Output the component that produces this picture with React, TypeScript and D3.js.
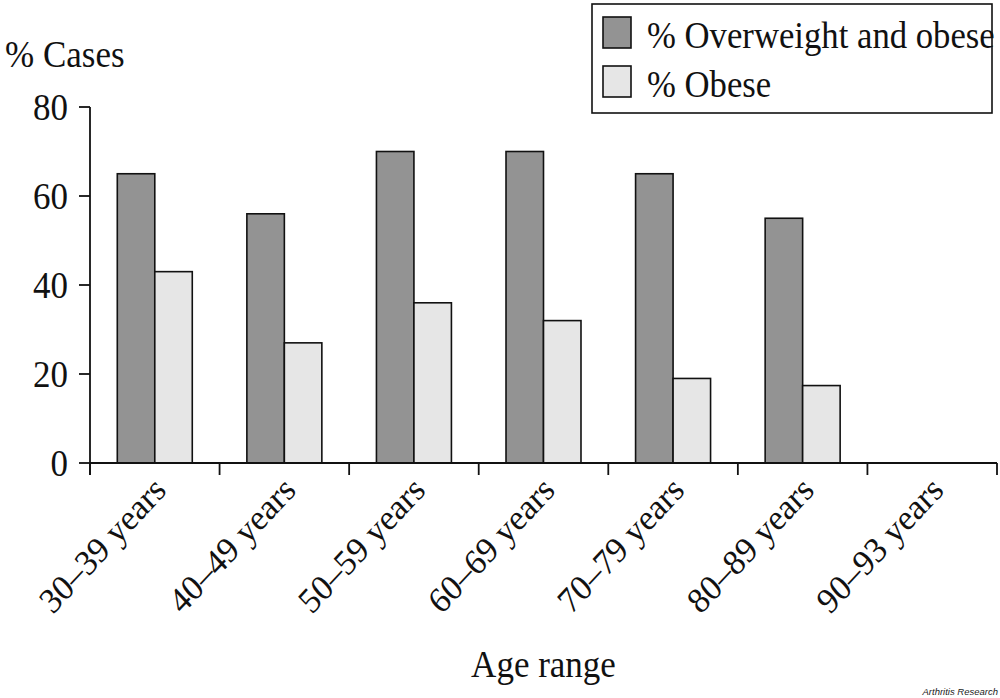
import React, { useEffect, useRef } from "react";
import * as d3 from "d3";

const categories = [
  "30–39 years",
  "40–49 years",
  "50–59 years",
  "60–69 years",
  "70–79 years",
  "80–89 years",
  "90–93 years",
];
const seriesNames = ["% Overweight and obese", "% Obese"];
const overweightObese: (number | null)[] = [65, 56, 70, 70, 65, 55, null];
const obese: (number | null)[] = [43, 27, 36, 32, 19, 17.4, null];
const yTicks = [0, 20, 40, 60, 80];
const seriesColors = ["#939393", "#e6e6e6"];

const W = 1000;
const H = 698;
const FONT = "'Liberation Serif', 'Times New Roman', serif";
const STRETCH = 1.07;

export default function App() {
  const ref = useRef<SVGSVGElement | null>(null);

  useEffect(() => {
    const svg = d3.select(ref.current);
    svg.selectAll("*").remove();

    const x0 = 90, x1 = 997, yTop = 107, yBase = 463;
    const x = d3.scaleBand<string>().domain(categories).range([x0, x1]).padding(0);
    const inner = d3
      .scaleBand<string>()
      .domain(seriesNames)
      .range([0, x.bandwidth()])
      .paddingInner(0)
      .paddingOuter(0.728);
    const y = d3.scaleLinear().domain([0, 80]).range([yBase, yTop]);

    const data = [overweightObese, obese];

    const txt = (
      parent: any,
      px: number,
      py: number,
      s: string,
      size: number,
      anchor = "start",
      extra = ""
    ) =>
      parent
        .append("text")
        .attr("transform", `translate(${px},${py}) scale(1,${STRETCH}) ${extra}`)
        .attr("text-anchor", anchor)
        .attr("font-family", FONT)
        .attr("font-size", size)
        .attr("fill", "#111")
        .text(s);

    // bars
    const g = svg.append("g");
    categories.forEach((c, i) => {
      seriesNames.forEach((s, j) => {
        const v = data[j][i];
        if (v == null) return;
        g.append("rect")
          .attr("x", (x(c) as number) + (inner(s) as number))
          .attr("y", y(v))
          .attr("width", inner.bandwidth())
          .attr("height", y(0) - y(v))
          .attr("fill", seriesColors[j])
          .attr("stroke", "#111")
          .attr("stroke-width", 1.6);
      });
    });

    // y axis
    const ya = svg.append("g");
    ya.append("line")
      .attr("x1", x0).attr("x2", x0)
      .attr("y1", y(80)).attr("y2", yBase + 12)
      .attr("stroke", "#111").attr("stroke-width", 1.8);
    yTicks.forEach((t) => {
      ya.append("line")
        .attr("x1", x0 - 11).attr("x2", x0)
        .attr("y1", y(t)).attr("y2", y(t))
        .attr("stroke", "#111").attr("stroke-width", 1.8);
      txt(ya, x0 - 22, y(t) + 12.5, String(t), 35, "end");
    });

    // x axis
    const xa = svg.append("g");
    xa.append("line")
      .attr("x1", x0).attr("x2", x1)
      .attr("y1", yBase).attr("y2", yBase)
      .attr("stroke", "#111").attr("stroke-width", 1.8);
    const bounds = categories.map((c) => x(c) as number).concat([x1]);
    bounds.forEach((b) => {
      xa.append("line")
        .attr("x1", b).attr("x2", b)
        .attr("y1", yBase).attr("y2", yBase + 12)
        .attr("stroke", "#111").attr("stroke-width", 1.8);
    });
    categories.forEach((c) => {
      const cx = (x(c) as number) + x.bandwidth() / 2 + 13;
      txt(xa, cx, 492, c, 33.5, "end", "rotate(-45)");
    });

    // axis titles
    txt(svg, 5, 67, "% Cases", 35);
    txt(svg, (x0 + x1) / 2, 677, "Age range", 35, "middle");

    // legend
    const lg = svg.append("g");
    lg.append("rect")
      .attr("x", 592).attr("y", 4).attr("width", 400).attr("height", 109)
      .attr("fill", "white").attr("stroke", "#111").attr("stroke-width", 1.6);
    seriesNames.forEach((s, j) => {
      const top = j === 0 ? 17 : 66;
      lg.append("rect")
        .attr("x", 603).attr("y", top).attr("width", 28).attr("height", 31)
        .attr("fill", seriesColors[j]).attr("stroke", "#111").attr("stroke-width", 1.6);
      txt(lg, 647, top + 31, s, 34.7);
    });

    // credit
    svg.append("text")
      .attr("x", 998).attr("y", 695)
      .attr("text-anchor", "end")
      .attr("font-family", "'Liberation Sans', Arial, sans-serif")
      .attr("font-style", "italic")
      .attr("font-size", 9.5)
      .attr("fill", "#222")
      .text("Arthritis Research");
  }, []);

  return (
    <svg
      ref={ref}
      width={W}
      height={H}
      style={{ position: "absolute", left: 0, top: 0, background: "white" }}
    />
  );
}
